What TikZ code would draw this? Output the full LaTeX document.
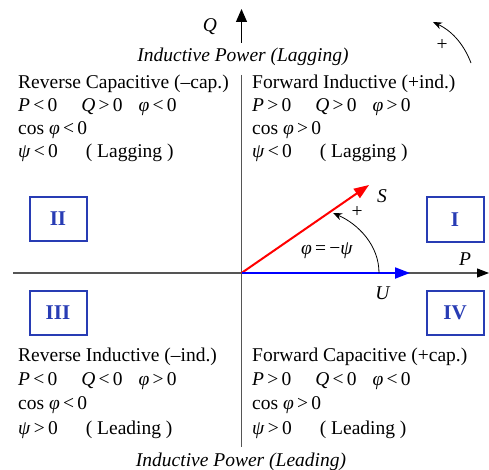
\documentclass[tikz,border=0pt]{standalone}
\usepackage{fontspec}
\setmainfont{Liberation Serif}
\usetikzlibrary{arrows.meta}
\definecolor{qblue}{RGB}{40,60,180}
\definecolor{axgray}{RGB}{85,85,85}
\newcommand{\vi}[1]{\textit{#1}}

\begin{document}
\begin{tikzpicture}[
  x=1pt, y=-1pt,
  font=\fontsize{19.5}{23}\selectfont,
  axis/.style={draw=axgray, line width=1.1pt},
  quad/.style={draw=qblue, line width=2pt, text=qblue, minimum width=57pt, minimum height=44pt, font=\fontsize{21}{22}\selectfont\bfseries},
  info/.style={anchor=base west, align=left, inner sep=0pt},
  low/.style={font=\fontsize{19.5}{24.3}\selectfont},
  vec/.style={line width=2pt, -{Triangle[length=15pt,width=11pt]}},
  turn/.style={line width=0.8pt, -{Stealth[length=9pt,width=7pt]}}
]
\useasboundingbox (0,0) rectangle (489,470);

% axes
\coordinate (O) at (241.5,273);
\coordinate (xl) at (13,273);
\coordinate (xr) at (489,273);
\coordinate (yt) at (241.5,75);
\coordinate (yb) at (241.5,447);
\coordinate (qs) at (241.5,43);
\coordinate (qe) at (241.5,9);
\draw[axis] (yt) -- (yb);
\draw[axis, -{Triangle[length=12pt,width=9pt,color=black]}] (xl) -- (xr);
\draw[line width=1.1pt, -{Triangle[length=13pt,width=11pt]}] (qs) -- (qe);

\node (Q) at (210,27) {\vi{Q}};
\node (P) at (465,259) {\vi{P}};
\node (lag) at (243,57) {\itshape Inductive Power (Lagging)};
\node (lead) at (241,462) {\itshape Inductive Power (Leading)};

% quadrant boxes
\node[quad] (q2) at (58,219) {II};
\node[quad] (q1) at (455,219.5) {I};
\node[quad] (q3) at (58,313) {III};
\node[quad] (q4) at (455,313) {IV};

% phasors
\coordinate (Sv) at (369,185);
\coordinate (Uv) at (410,273);
\draw[vec, red] (O) -- (Sv);
\draw[vec, blue] (O) -- (Uv);
\node (S) at (382,196) {\vi{S}};
\node (U) at (383,293) {\vi{U}};

% angle
\coordinate (a1) at (379,273);
\coordinate (a2) at (333,213);
\draw[turn] (a1) .. controls (379,245) and (358,224) .. (a2);
\node (plus) at (357,212) {+};
\node (ang) at (327,251) {\vi{φ}\,=\,−\vi{ψ}};

\coordinate (r1) at (471,63);
\coordinate (r2) at (433,22);
\draw[turn] (r1) .. controls (463,42) and (450,30) .. (r2);
\node (rplus) at (442,45) {+};

% quadrant texts
\node[info] (tl) at (18,158) {Reverse Capacitive (–cap.)\\
  \vi{P}\,<\,0\hspace{24pt}\vi{Q}\,>\,0\hspace{16pt}\vi{φ}\,<\,0\\
  cos \vi{φ}\,<\,0\\
  \vi{ψ}\,<\,0\hspace{28pt}( Lagging )};
\node[info] (tr) at (252,158) {Forward Inductive (+ind.)\\
  \vi{P}\,>\,0\hspace{24pt}\vi{Q}\,>\,0\hspace{16pt}\vi{φ}\,>\,0\\
  cos \vi{φ}\,>\,0\\
  \vi{ψ}\,<\,0\hspace{28pt}( Lagging )};
\node[info, low] (bl) at (18,434) {Reverse Inductive (–ind.)\\
  \vi{P}\,<\,0\hspace{24pt}\vi{Q}\,<\,0\hspace{16pt}\vi{φ}\,>\,0\\
  cos \vi{φ}\,<\,0\\
  \vi{ψ}\,>\,0\hspace{28pt}( Leading )};
\node[info, low] (br) at (252,434) {Forward Capacitive (+cap.)\\
  \vi{P}\,>\,0\hspace{24pt}\vi{Q}\,<\,0\hspace{16pt}\vi{φ}\,<\,0\\
  cos \vi{φ}\,>\,0\\
  \vi{ψ}\,>\,0\hspace{28pt}( Leading )};
\end{tikzpicture}
\end{document}
